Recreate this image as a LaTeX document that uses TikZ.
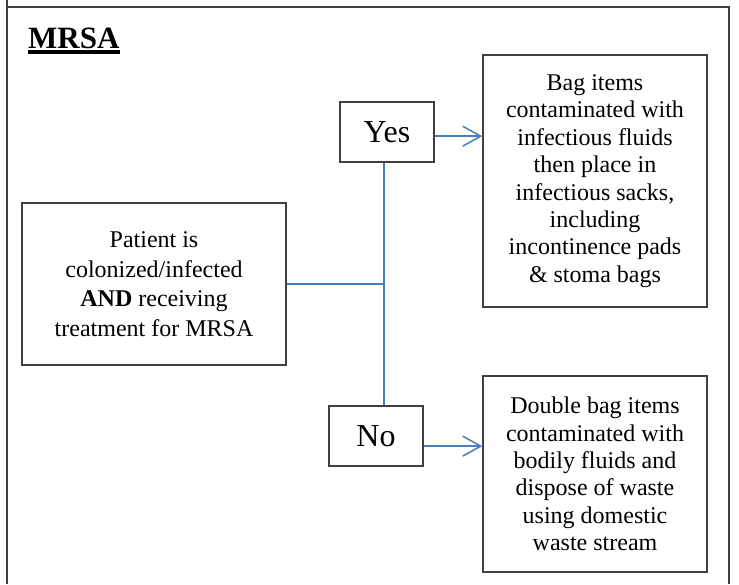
\documentclass[tikz,border=0pt]{standalone}
\usepackage{fontspec}
\setmainfont{Liberation Serif}
\usetikzlibrary{arrows.meta,positioning}
\definecolor{rim}{HTML}{404040}
\definecolor{linkblue}{HTML}{4A7EBB}

\begin{document}
\begin{tikzpicture}[
  x=1pt, y=-1pt, >={Straight Barb[length=18pt,width=20pt]},
  font=\fontsize{24}{27.4}\selectfont,
  box/.style={draw=rim,line width=1.5pt,align=center,inner sep=0pt},
  choice/.style={box,minimum width=94pt,minimum height=60pt,font=\fontsize{32}{36}\selectfont},
  link/.style={draw=linkblue,line width=1.5pt},
]
\useasboundingbox (0,0) rectangle (739,584);
% page frame
\draw[rim,line width=1.5pt] (7,0) -- (7,584);
\draw[rim,line width=1.5pt] (7,7) -- (729,7) -- (729,584);

\node[inner sep=0pt,anchor=base west,font=\fontsize{31}{34}\selectfont\bfseries] (title) at (28,48) {MRSA};
\draw[line width=3.5pt] ([yshift=-4pt]title.base west) -- ([yshift=-4pt]title.base east);

\node[box,minimum width=264pt,minimum height=162pt,font=\fontsize{24}{29.5}\selectfont] (patient) at (154,284)
  {Patient is\\colonized/infected\\\textbf{AND} receiving\\treatment for MRSA};
\node[choice] (yes) at (387,132) {Yes};
\node[choice] (no)  at (376,436) {No};
\node[box,minimum width=224pt,minimum height=252pt] (bag) at (595,181)
  {Bag items\\contaminated with\\infectious fluids\\then place in\\infectious sacks,\\including\\incontinence pads\\\& stoma bags};
\node[box,minimum width=224pt,minimum height=196pt] (dbl) at (595,474)
  {Double bag items\\contaminated with\\bodily fluids and\\dispose of waste\\using domestic\\waste stream};

\coordinate (trunk) at ([xshift=-3pt]yes.south);
\draw[link] (trunk) -- (trunk |- no.north);
\draw[link] (patient.east) -- (patient.east -| trunk);
\draw[link,->] (yes.355) -- (yes.355 -| bag.west);
\draw[link,->] (no.348) -- (no.348 -| dbl.west);
\end{tikzpicture}
\end{document}
